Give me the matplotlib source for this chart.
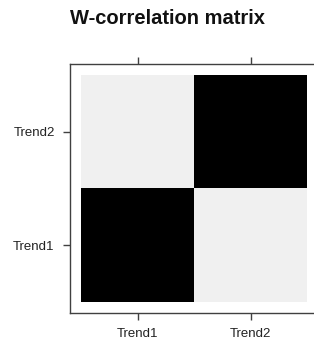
import numpy as np
import matplotlib
matplotlib.use("Agg")
import matplotlib.pyplot as plt

components = ["Trend1", "Trend2"]
wcor = np.array([[1.0, 0.06],
                 [0.06, 1.0]])  # rows: y (Trend1, Trend2), cols: x

plt.rcParams['font.family'] = ['Liberation Sans', 'DejaVu Sans']

W, H = 314, 347
fig = plt.figure(figsize=(W / 100, H / 100), dpi=100)
ax = fig.add_axes([70 / W, 1 - 313 / H, (318 - 70) / W, (313 - 64) / H])

n = len(components)
edges = np.arange(n + 1) + 0.5
ax.pcolormesh(edges, edges, wcor, cmap='gray_r', vmin=0, vmax=1,
              shading='flat', antialiased=False, edgecolors='none')

pad = 11 / 113
ax.set_xlim(0.5 - pad, n + 0.5 + pad)
ax.set_ylim(0.5 - pad, n + 0.5 + pad)

pos = np.arange(1, n + 1)
ax.set_xticks(pos)
ax.set_xticklabels(components)
ax.set_yticks(pos)
ax.set_yticklabels(components)

spine_col = '#404040'
for s in ax.spines.values():
    s.set_color(spine_col)
    s.set_linewidth(1.0)

ax.tick_params(axis='x', which='both', direction='out', length=5, width=1.0,
               color=spine_col, labelsize=9.5, labelcolor='#222222', pad=6,
               top=True, labeltop=False)
ax.tick_params(axis='y', which='both', direction='out', length=5, width=1.0,
               color=spine_col, labelsize=9.5, labelcolor='#222222', pad=6,
               right=False)

fig.text(168 / W, 1 - 18 / H, "W-correlation matrix", ha='center', va='center',
         fontsize=14.5, fontweight='bold', color='#111111')

fig.savefig("out.png", dpi=100)
